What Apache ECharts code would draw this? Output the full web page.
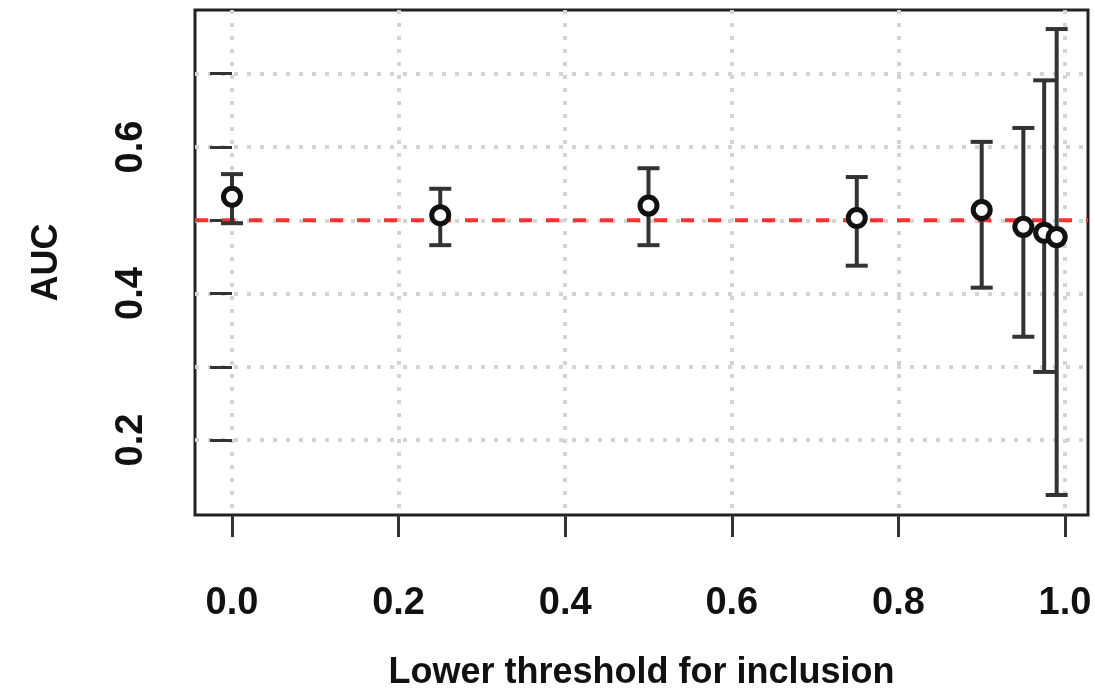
<!DOCTYPE html>
<html>
<head>
<meta charset="utf-8">
<script src="https://cdn.jsdelivr.net/npm/echarts@6/dist/echarts.min.js"></script>
<style>
  html, body { margin: 0; padding: 0; background: #fff; }
  #mainCanvas { width: 1095px; height: 698px; }
</style>
</head>
<body>
<div id="mainCanvas"></div>
<script>
var myChart = echarts.init(document.getElementById("mainCanvas"));

// lower threshold for inclusion
var thresholds = [0, 0.25, 0.5, 0.75, 0.9, 0.95, 0.975, 0.99];
// AUC estimate and interval ends
var auc   = [0.532, 0.507, 0.520, 0.503, 0.514, 0.491, 0.483, 0.477];
var lower = [0.496, 0.466, 0.466, 0.438, 0.408, 0.341, 0.293, 0.125];
var upper = [0.563, 0.543, 0.571, 0.559, 0.607, 0.626, 0.691, 0.761];

var xTicks = [0, 0.2, 0.4, 0.6, 0.8, 1.0];
var yTicks = [0.2, 0.3, 0.4, 0.5, 0.6, 0.7];
var yLabels = [0.2, 0.4, 0.6];
var refLine = 0.5;

var font = "'Liberation Sans', Arial, sans-serif";

var points = [];
var bars = [];
for (var i = 0; i < thresholds.length; i++) {
    points.push([thresholds[i], auc[i]]);
    bars.push([thresholds[i], lower[i], upper[i]]);
}

var option = {
    animation: false,
    grid: {
        left: 195, top: 10, right: 7, bottom: 183,
        outerBoundsMode: 'none',
        containLabel: false,
        show: true, borderColor: '#222', borderWidth: 3
    },
    xAxis: {
        type: 'value',
        min: -0.0444, max: 1.0276,
        name: 'Lower threshold for inclusion',
        nameLocation: 'middle',
        nameGap: 140,
        nameTextStyle: { fontFamily: font, fontSize: 36, fontWeight: 'bold', color: '#111' },
        axisLine: { show: false },
        axisTick: { show: true, inside: false, length: 22, customValues: xTicks,
                    lineStyle: { color: '#333', width: 3 } },
        axisLabel: { customValues: xTicks, margin: 70, fontFamily: font, fontSize: 38,
                     fontWeight: 'bold', color: '#111',
                     formatter: function (v) { return v.toFixed(1); } },
        splitLine: { show: true, lineStyle: { color: '#d4d4d4', width: 4, type: [4, 9] } }
    },
    yAxis: {
        type: 'value',
        min: 0.0977, max: 0.787,
        name: 'AUC',
        nameLocation: 'middle',
        nameGap: 130,
        nameRotate: 90,
        nameTextStyle: { fontFamily: font, fontSize: 36, fontWeight: 'bold', color: '#111' },
        axisLine: { show: false },
        axisTick: { show: true, inside: false, length: 22, customValues: yTicks,
                    lineStyle: { color: '#333', width: 3 } },
        axisLabel: { customValues: yLabels, rotate: 90, margin: 44, fontFamily: font,
                     fontSize: 38, fontWeight: 'bold', color: '#111',
                     formatter: function (v) { return v.toFixed(1); } },
        splitLine: { show: true, lineStyle: { color: '#d4d4d4', width: 4, type: [4, 9] } }
    },
    series: [
        {
            type: 'line',
            data: [[-0.0444, refLine], [1.0276, refLine]],
            symbol: 'none',
            lineStyle: { color: '#ff3030', width: 4, type: [13, 14] },
            z: 3
        },
        {
            type: 'custom',
            data: bars,
            z: 4,
            renderItem: function (params, api) {
                var lo = api.coord([api.value(0), api.value(1)]);
                var hi = api.coord([api.value(0), api.value(2)]);
                var hw = 11;
                var st = { stroke: '#333', lineWidth: 4 };
                return {
                    type: 'group',
                    children: [
                        { type: 'line', shape: { x1: lo[0], y1: lo[1], x2: hi[0], y2: hi[1] }, style: st },
                        { type: 'line', shape: { x1: lo[0] - hw, y1: lo[1], x2: lo[0] + hw, y2: lo[1] }, style: st },
                        { type: 'line', shape: { x1: hi[0] - hw, y1: hi[1], x2: hi[0] + hw, y2: hi[1] }, style: st }
                    ]
                };
            }
        },
        {
            type: 'scatter',
            data: points,
            symbol: 'circle',
            symbolSize: 17,
            itemStyle: { color: '#fff', borderColor: '#111', borderWidth: 5, opacity: 1 },
            z: 5
        }
    ]
};

myChart.setOption(option);
</script>
</body>
</html>
